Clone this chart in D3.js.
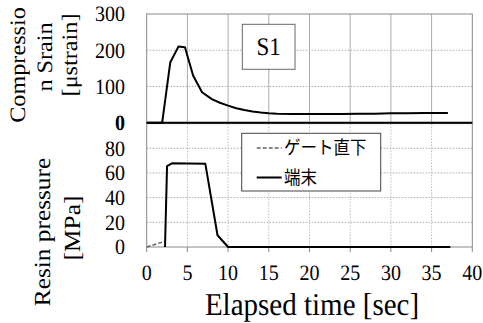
<!DOCTYPE html>
<html>
<head>
<meta charset="utf-8">
<script src="https://cdn.jsdelivr.net/npm/d3@7"></script>
<style>
  body { margin: 0; background: #fff; }
  svg { display: block; }
  .serif { font-family: "Liberation Serif", "Times New Roman", serif; text-rendering: geometricPrecision; }
  .cjk { font-family: "Noto Sans CJK JP", sans-serif; }
</style>
</head>
<body>
<div id="chart"></div>
<script>
// strain (top panel)
const strainT = [0, 1.9, 2.9, 3.9, 4.7, 5.7, 6.8, 8, 9, 10, 11, 12, 13, 14, 15, 16, 18, 20, 22, 24, 26, 28, 30, 32, 34, 37];
const strainV = [0, 0, 167, 210, 208, 130, 84, 65, 55, 47, 40, 35, 31, 28, 26, 25, 24, 24, 24, 24, 25, 25, 26, 26, 27, 27];
// resin pressure (bottom panel)
const gateT = [0, 2.15];
const gateV = [0, 4.5];
const endT = [2.25, 2.5, 3.1, 7.2, 8.7, 10.0, 37.3];
const endV = [0, 65.5, 67.8, 67.5, 9.5, 0, 0];
const xTicks = [0, 5, 10, 15, 20, 25, 30, 35, 40];
const topTicks = [0, 100, 200, 300];
const botTicks = [0, 20, 40, 60, 80];
const legendNames = ["ゲート直下", "端末"];

const W = 483, H = 323;
const SY = 1.1; // the picture is a little stretched vertically

const svg = d3.select("#chart").append("svg")
  .attr("width", W).attr("height", H);
svg.append("rect").attr("width", W).attr("height", H).attr("fill", "#fff");

const x = d3.scaleLinear().domain([0, 40]).range([146.7, 472.3]);
const yTop = d3.scaleLinear().domain([0, 300]).range([122.7, 14]);
const yBot = d3.scaleLinear().domain([0, 100]).range([247, 123.6]);

// text placed by baseline; mid=true shifts it so the digits sit centred on ty
function label(g, tx, ty, str, size, opts) {
  opts = opts || {};
  const sy = opts.sy || SY;
  if (opts.mid) ty += size * 0.34 * sy;
  let tf = `translate(${tx},${ty}) scale(1,${sy})`;
  if (opts.rot) tf += ` rotate(${opts.rot})`;
  const t = g.append("text")
    .attr("class", opts.cls || "serif")
    .attr("transform", tf)
    .attr("font-size", size)
    .attr("text-anchor", opts.anchor || "middle")
    .attr("fill", "#000")
    .text(str);
  if (opts.weight) t.attr("font-weight", opts.weight);
  return t;
}

// ---- top panel grid ----
const gTop = svg.append("g");
gTop.selectAll(".hg").data(topTicks.filter(d => d > 0 && d < 300)).join("line")
  .attr("x1", x(0)).attr("x2", x(40))
  .attr("y1", d => yTop(d)).attr("y2", d => yTop(d))
  .attr("stroke", "#aaa").attr("stroke-dasharray", "1.5,1.5");
gTop.selectAll(".vg").data(xTicks.filter(d => d > 0 && d < 40)).join("line")
  .attr("x1", d => x(d)).attr("x2", d => x(d))
  .attr("y1", yTop(300)).attr("y2", yTop(0))
  .attr("stroke", "#aaa");
gTop.append("rect")
  .attr("x", x(0)).attr("y", yTop(300))
  .attr("width", x(40) - x(0)).attr("height", yTop(0) - yTop(300))
  .attr("fill", "none").attr("stroke", "#888");

// ---- bottom panel grid ----
const gBot = svg.append("g");
gBot.selectAll(".hg").data(botTicks.filter(d => d > 0)).join("line")
  .attr("x1", x(0)).attr("x2", x(40))
  .attr("y1", d => yBot(d)).attr("y2", d => yBot(d))
  .attr("stroke", "#aaa").attr("stroke-dasharray", "1.5,1.5");
gBot.selectAll(".vg").data(xTicks.filter(d => d > 0 && d < 40)).join("line")
  .attr("x1", d => x(d)).attr("x2", d => x(d))
  .attr("y1", yBot(100)).attr("y2", yBot(0))
  .attr("stroke", "#bbb").attr("stroke-dasharray", "1.5,1.5");
gBot.append("rect")
  .attr("x", x(0)).attr("y", yBot(100))
  .attr("width", x(40) - x(0)).attr("height", yBot(0) - yBot(100))
  .attr("fill", "none").attr("stroke", "#888");

// x axis ticks under bottom panel
gBot.selectAll(".xt").data(xTicks).join("line")
  .attr("x1", d => x(d)).attr("x2", d => x(d))
  .attr("y1", yBot(0)).attr("y2", yBot(0) + 5)
  .attr("stroke", "#888");

// top panel x axis at 0 (black)
svg.append("line")
  .attr("x1", x(0)).attr("x2", x(40))
  .attr("y1", yTop(0)).attr("y2", yTop(0))
  .attr("stroke", "#000").attr("stroke-width", 2);

// ---- lines ----
const lineTop = d3.line().x(i => x(strainT[i])).y(i => yTop(strainV[i]));
svg.append("path").attr("d", lineTop(d3.range(strainT.length)))
  .attr("fill", "none").attr("stroke", "#000").attr("stroke-width", 2)
  .attr("stroke-linejoin", "round");

const lineGate = d3.line().x(i => x(gateT[i])).y(i => yBot(gateV[i]));
svg.append("path").attr("d", lineGate(d3.range(gateT.length)))
  .attr("fill", "none").attr("stroke", "#666").attr("stroke-width", 1.5)
  .attr("stroke-dasharray", "4,2");

const lineEnd = d3.line().x(i => x(endT[i])).y(i => yBot(endV[i]));
svg.append("path").attr("d", lineEnd(d3.range(endT.length)))
  .attr("fill", "none").attr("stroke", "#000").attr("stroke-width", 2)
  .attr("stroke-linejoin", "round");

// S1 box
svg.append("rect").attr("x", 242.3).attr("y", 24.3).attr("width", 52.7).attr("height", 45)
  .attr("fill", "#fff").attr("stroke", "#666");

// legend box
const lg = svg.append("g");
lg.append("rect").attr("x", 241.7).attr("y", 133.3).attr("width", 139).attr("height", 57.7)
  .attr("fill", "#fff").attr("stroke", "#444");

// ---- texts ----
const gl = svg.append("g");
topTicks.forEach(d => {
  label(gl, 125, yTop(d), String(d), 20, { anchor: "end", mid: true, weight: d === 0 ? "bold" : null });
});
botTicks.forEach(d => {
  label(gl, 125, yBot(d), String(d), 20, { anchor: "end", mid: true });
});
xTicks.forEach(d => {
  label(gl, x(d), 273, String(d), 20, { mid: true });
});

label(gl, 312, 315, "Elapsed time [sec]", 29);
label(gl, 25, 65, "Compressio", 22, { rot: -90 });
label(gl, 52, 57, "n Srain", 22, { rot: -90 });
label(gl, 77, 55, "[μstrain]", 22, { rot: -90 });
label(gl, 50, 232, "Resin pressure", 23, { rot: -90 });
label(gl, 80, 228, "[MPa]", 23, { rot: -90 });

label(gl, 268.6, 46, "S1", 23, { mid: true });

const legY = [148, 177.5];
const legDash = ["4,2", null];
const legColor = ["#666", "#000"];
legendNames.forEach((name, i) => {
  lg.append("line").attr("x1", 256.7).attr("x2", 281.7)
    .attr("y1", legY[i]).attr("y2", legY[i])
    .attr("stroke", legColor[i]).attr("stroke-width", i ? 2 : 1.5)
    .attr("stroke-dasharray", legDash[i]);
  label(gl, 284, legY[i], name, 16.5, { anchor: "start", cls: "cjk", mid: true });
});
</script>
</body>
</html>
